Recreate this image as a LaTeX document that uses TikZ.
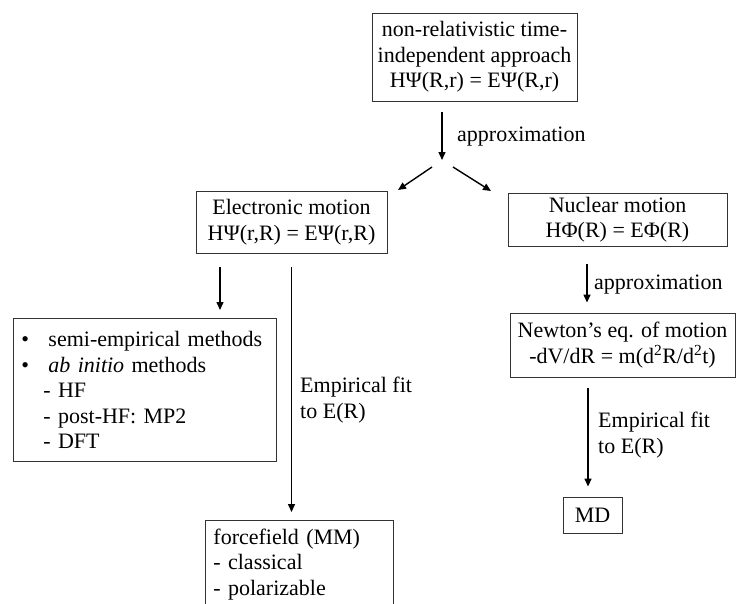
\documentclass[tikz,border=0pt]{standalone}
\usepackage{fontspec}
\setmainfont{Liberation Serif}
\usetikzlibrary{arrows.meta}

\tikzset{
  box/.style={draw=black!80, line width=0.9pt, inner sep=0pt, align=center,
    font=\fontsize{22}{25.5}\selectfont},
  arr/.style={line width=1.4pt, -{Triangle[length=8pt,width=7pt]}},
  lbl/.style={anchor=west, inner sep=0pt, align=left,
    font=\fontsize{22}{25.5}\selectfont}
}

\begin{document}
\begin{tikzpicture}[x=1pt,y=-1pt]
    \useasboundingbox (0,0) rectangle (738,603);
    \clip (0,0) rectangle (738,603);

    % boxes
    \node[box, minimum width=205pt, minimum height=88pt] (top) at (474.5,57)
      {non-relativistic time-\\independent approach\\HΨ(R,r) = EΨ(R,r)};
    \node[box, minimum width=191pt, minimum height=62pt] (elec) at (291.5,222)
      {Electronic motion\\HΨ(r,R) = EΨ(r,R)};
    \node[box, minimum width=219pt, minimum height=53pt] (nuc) at (617.5,219.5)
      {Nuclear motion\\HΦ(R) = EΦ(R)};
    \node[box, minimum width=225pt, minimum height=64pt] (newton) at (622.5,345)
      {Newton’s eq. of motion\\-dV/dR = m(d\textsuperscript{2}R/d\textsuperscript{2}t)};
    \node[box, minimum width=59pt, minimum height=36pt] (md) at (592.5,515) {MD};
    \node[box, anchor=north west, align=left, text width=247pt, inner xsep=8pt,
      minimum height=143pt] (meth) at (13,318)
      {\makebox[27pt][l]{\textbullet}semi-empirical methods\\
       \makebox[27pt][l]{\textbullet}\textit{ab initio} methods\\
       \hspace*{22pt}- HF\\
       \hspace*{22pt}- post-HF: MP2\\
       \hspace*{22pt}- DFT};
    \node[box, anchor=north west, align=left, text width=172pt, inner xsep=8pt,
      minimum height=88pt] (ff) at (205,520)
      {forcefield (MM)\\- classical\\- polarizable};

    % split below the top box
    \coordinate (split) at (442,160);
    \coordinate (sl) at (432,167);
    \coordinate (sr) at (453,167);
    \coordinate (el) at (398,190);
    \coordinate (nr) at (491,191);
    \draw[arr, shorten <=11pt] (top.south -| split) -- (split);
    \node[lbl] (apx1) at (457,137) {approximation};
    \draw[arr] (sl) -- (el);
    \draw[arr] (sr) -- (nr);

    % electronic side
    \draw[arr, shorten <=14pt, shorten >=8pt] ([xshift=-71.5pt]elec.south)
      -- ([xshift=-71.5pt]elec.south |- meth.north);
    \draw[arr, shorten <=14pt, shorten >=8pt] (elec.south) -- (elec.south |- ff.north);
    \node[lbl] (fit1) at (300,400) {Empirical fit\\to E(R)};

    % nuclear side
    \draw[arr, shorten <=18pt, shorten >=10pt] ([xshift=-30.5pt]nuc.south)
      -- ([xshift=-30.5pt]nuc.south |- newton.north);
    \node[lbl] (apx2) at (594,285) {approximation};
    \draw[arr, shorten <=11pt, shorten >=10pt] ([xshift=-4.5pt]md.north |- newton.south)
      -- ([xshift=-4.5pt]md.north);
    \node[lbl] (fit2) at (598,435) {Empirical fit\\to E(R)};
\end{tikzpicture}
\end{document}
